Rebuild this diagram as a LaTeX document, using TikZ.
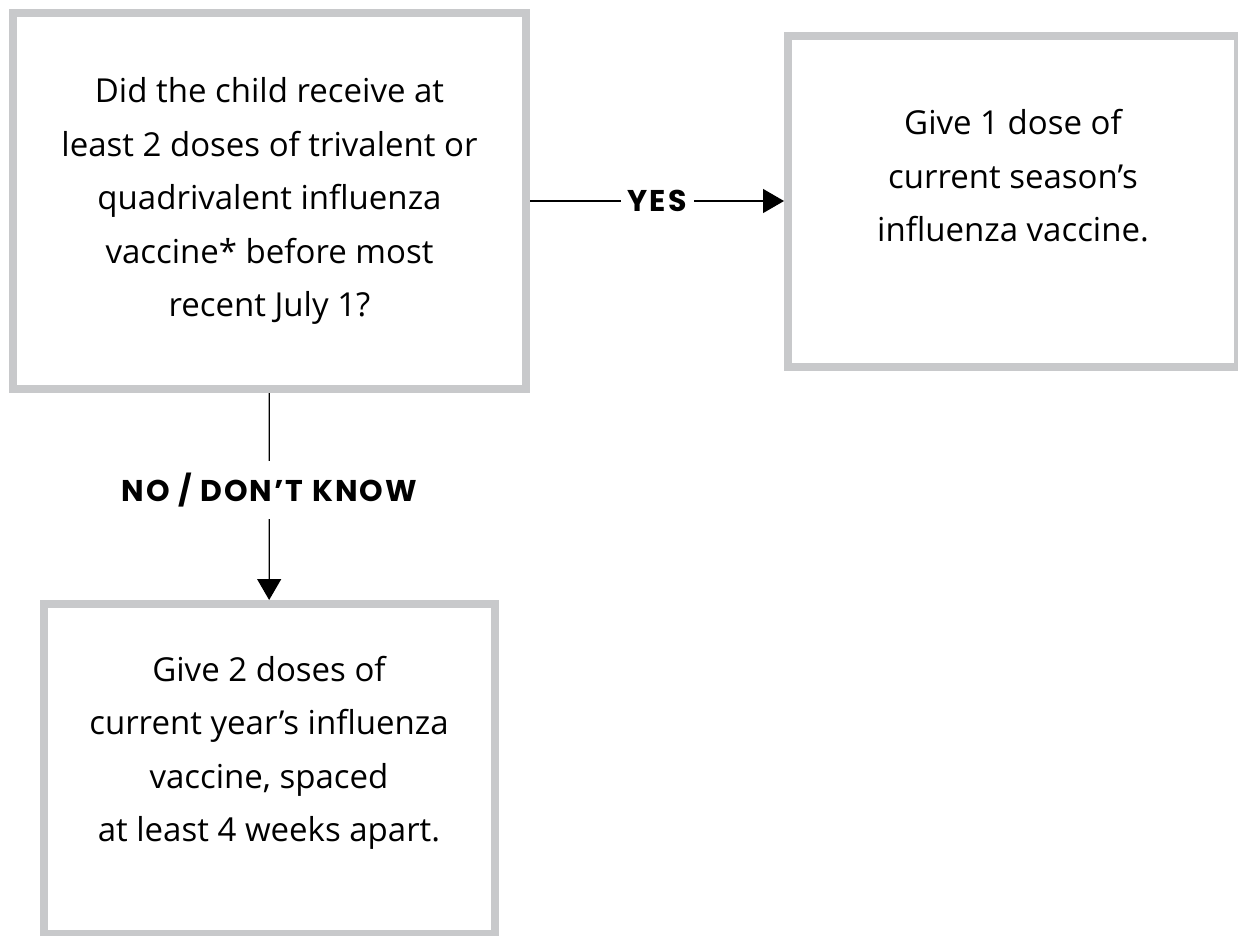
\documentclass[tikz,border=0pt]{standalone}
\usepackage{fontspec}
\setmainfont{Open Sans}
\newfontfamily\ansfont[LetterSpace=7]{Poppins}
\usetikzlibrary{positioning, arrows.meta}
\definecolor{boxgray}{RGB}{200,201,203}

\begin{document}
\begin{tikzpicture}[x=1pt,y=-1pt,>={Triangle[length=21pt,width=24pt]},
                   box/.style={draw=boxgray,line width=8pt,rectangle},
                   txt/.style={align=center,font=\fontsize{33}{53.5}\selectfont},
                   ans/.style={font=\ansfont\bfseries\fontsize{30}{32}\selectfont,
                               fill=white,inner xsep=7pt,inner ysep=12pt}]
\useasboundingbox (0,0) rectangle (1238,935);
\node[box,minimum width=513pt,minimum height=376pt] (q)   at (269.5,201) {};
\node[box,minimum width=450pt,minimum height=331pt] (one) at (1013,201)  {};
\node[box,minimum width=451pt,minimum height=330pt] (two) at (269,769)   {};

\node[txt] (qtxt)   at (q)          {Did the child receive at\\least 2 doses of trivalent or\\quadrivalent influenza\\vaccine* before most\\recent July 1?};
\node[txt] (onetxt) at (1013,176)   {Give 1 dose of\\current season’s\\influenza vaccine.};
\node[txt] (twotxt) at (269,753)    {Give 2 doses of\\current year’s influenza\\vaccine, spaced\\at least 4 weeks apart.};

\path[->,line width=1.3pt]
(q) edge node[ans] {YES} (one)
(q) edge node[ans,pos=0.47] {NO / DON’T KNOW} (two);
\end{tikzpicture}
\end{document}
